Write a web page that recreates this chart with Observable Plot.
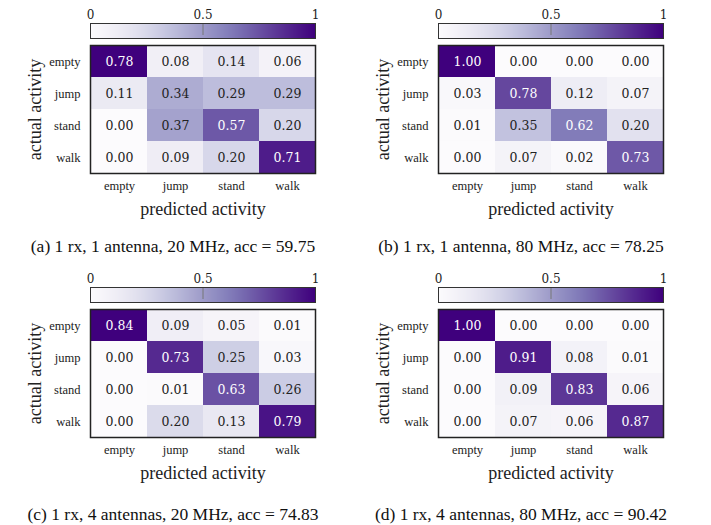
<!DOCTYPE html>
<html>
<head>
<meta charset="utf-8">
<script src="https://cdn.jsdelivr.net/npm/d3@7"></script>
<script src="https://cdn.jsdelivr.net/npm/@observablehq/plot@0.6"></script>
<style>
  html, body { margin: 0; padding: 0; background: #fff; }
  #root { position: relative; width: 711px; height: 525px; overflow: hidden; background: #fff; }
  #root svg { position: absolute; background: transparent; font-family: "Liberation Serif", "Times New Roman", serif !important; }
  #root svg.cbar { font-family: "DejaVu Serif", serif !important; }
  .cap { position: absolute; white-space: nowrap; font-family: "Liberation Serif", serif; font-size: 17.5px; color: #111; transform: translate(-50%, -50%); line-height: 1; }
</style>
</head>
<body>
<div id="root"></div>
<script>
const categories = ["empty", "jump", "stand", "walk"];
const colorbarTicks = [0, 0.5, 1];

const panelA = [
  [0.78, 0.08, 0.14, 0.06],
  [0.11, 0.34, 0.29, 0.29],
  [0.00, 0.37, 0.57, 0.20],
  [0.00, 0.09, 0.20, 0.71]
];
const panelB = [
  [1.00, 0.00, 0.00, 0.00],
  [0.03, 0.78, 0.12, 0.07],
  [0.01, 0.35, 0.62, 0.20],
  [0.00, 0.07, 0.02, 0.73]
];
const panelC = [
  [0.84, 0.09, 0.05, 0.01],
  [0.00, 0.73, 0.25, 0.03],
  [0.00, 0.01, 0.63, 0.26],
  [0.00, 0.20, 0.13, 0.79]
];
const panelD = [
  [1.00, 0.00, 0.00, 0.00],
  [0.00, 0.91, 0.08, 0.01],
  [0.00, 0.09, 0.83, 0.06],
  [0.00, 0.07, 0.06, 0.87]
];
const captions = [
  "(a) 1 rx, 1 antenna, 20 MHz, acc = 59.75",
  "(b) 1 rx, 1 antenna, 80 MHz, acc = 78.25",
  "(c) 1 rx, 4 antennas, 20 MHz, acc = 74.83",
  "(d) 1 rx, 4 antennas, 80 MHz, acc = 90.42"
];
const xLabel = "predicted activity";
const yLabel = "actual activity";

const root = document.getElementById("root");

function toRows(m) {
  const rows = [];
  m.forEach((r, i) => r.forEach((v, j) => rows.push({actual: categories[i], pred: categories[j], v})));
  return rows;
}

function colorbar(left, top) {
  const svg = Plot.plot({
    width: 245, height: 39,
    marginLeft: 10, marginRight: 10, marginTop: 23, marginBottom: 1,
    style: {fontSize: "12px", color: "#222", background: "transparent"},
    x: {domain: [0, 1], axis: "top", ticks: colorbarTicks, tickSize: 0, tickPadding: 5, tickFormat: d => String(d), label: null},
    y: {domain: [0, 1], axis: null},
    color: {type: "linear", scheme: "purples", domain: [0, 1]},
    marks: [
      Plot.raster({x1: 0, x2: 1, y1: 0, y2: 1, width: 225, height: 1, fill: (x, y) => x, imageRendering: "auto"}),
      Plot.ruleX([0.5], {stroke: "#777", strokeWidth: 1, insetBottom: 3}),
      Plot.frame({stroke: "#333", strokeWidth: 1})
    ]
  });
  svg.classList.add("cbar");
  svg.style.left = left + "px";
  svg.style.top = top + "px";
  root.appendChild(svg);
}

function matrix(m, left, top) {
  const rows = toRows(m);
  const vmax = d3.max(rows, d => d.v);
  const svg = Plot.plot({
    width: 325, height: 180,
    marginLeft: 90, marginRight: 10, marginTop: 2, marginBottom: 50,
    style: {fontSize: "12.5px", color: "#222", background: "transparent"},
    x: {domain: categories, padding: 0, label: null, tickSize: 0, tickPadding: 8},
    y: {domain: categories, padding: 0, label: null, tickSize: 0, tickPadding: 10},
    color: {type: "linear", scheme: "purples", domain: [0, vmax]},
    marks: [
      Plot.cell(rows, {x: "pred", y: "actual", fill: "v"}),
      Plot.text(rows, {filter: d => d.v > 0.5, x: "pred", y: "actual", text: d => d.v.toFixed(2), fill: "white", fontFamily: "DejaVu Serif", fontSize: 12.5}),
      Plot.text(rows, {filter: d => d.v <= 0.5, x: "pred", y: "actual", text: d => d.v.toFixed(2), fill: "#222", fontFamily: "DejaVu Serif", fontSize: 12.5}),
      Plot.frame({stroke: "#222", strokeWidth: 1.5}),
      Plot.text([xLabel], {frameAnchor: "bottom", dy: 36, lineAnchor: "middle", textAnchor: "middle", fontSize: 18, fill: "#222"}),
      Plot.text([yLabel], {frameAnchor: "left", dx: -55, rotate: -90, textAnchor: "middle", lineAnchor: "middle", fontSize: 18, fill: "#222"})
    ]
  });
  svg.style.left = left + "px";
  svg.style.top = top + "px";
  root.appendChild(svg);
}

function caption(text, cx, cy) {
  const d = document.createElement("div");
  d.className = "cap";
  d.textContent = text;
  d.style.left = cx + "px";
  d.style.top = cy + "px";
  root.appendChild(d);
}

const panels = [panelA, panelB, panelC, panelD];
const colOff = [0, 348];
const rowOff = [0, 264];
const capX = [173, 521];
const capY = [247, 515];
panels.forEach((m, k) => {
  const c = k % 2, r = Math.floor(k / 2);
  colorbar(80 + colOff[c], 0 + rowOff[r]);
  matrix(m, 0 + colOff[c], 43 + rowOff[r]);
  caption(captions[k], capX[c], capY[r]);
});
</script>
</body>
</html>
